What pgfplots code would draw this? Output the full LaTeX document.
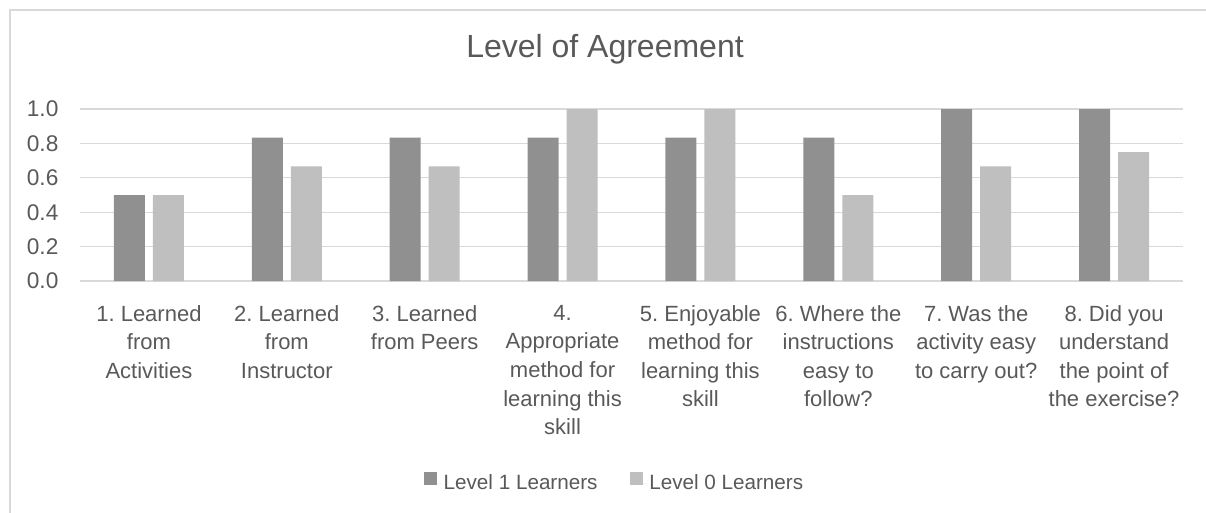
\documentclass[border=0pt]{standalone}
\usepackage{fontspec}
\setmainfont{Liberation Sans}
\usepackage{pgfplots}
\pgfplotsset{compat=1.18}
\frenchspacing

\definecolor{darkbar}{HTML}{909090}
\definecolor{lightbar}{HTML}{BFBFBF}
\definecolor{gridc}{HTML}{D9D9D9}
\definecolor{txt}{HTML}{595959}

\begin{document}
\begin{tikzpicture}
% 1px = 0.75pt, page is 1206x513 px
\useasboundingbox (0,0) rectangle (904.5pt,-384.75pt);
\draw[gridc, line width=1.1pt] (7.5pt,-384.75pt) -- (7.5pt,-7.5pt) -- (904.5pt,-7.5pt);
\begin{axis}[
  at={(60pt,-210.75pt)}, anchor=south west,
  scale only axis,
  width=827.25pt, height=129pt,
  ybar=6pt, bar width=23.25pt,
  xmin=-0.5, xmax=7.5, ymin=0, ymax=1,
  xtick={0,...,7},
  xticklabels={
    {1. Learned\\from\\Activities},
    {2. Learned\\from\\Instructor},
    {3. Learned\\from Peers},
    {4.\\Appropriate\\method for\\learning this\\skill},
    {5. Enjoyable\\method for\\learning this\\skill},
    {6. Where the\\instructions\\easy to\\follow?},
    {7. Was the\\activity easy\\to carry out?},
    {8. Did you\\understand\\the point of\\the exercise?}},
  ytick={0,0.2,...,1.0},
  yticklabel style={/pgf/number format/fixed, /pgf/number format/fixed zerofill,
    /pgf/number format/precision=1, /pgf/number format/assume math mode=true,
    anchor=east, inner sep=0pt, xshift=-16pt,
    font=\fontsize{17}{20}\selectfont, text=txt},
  xticklabel style={align=center, anchor=north, inner sep=0pt, yshift=-18pt,
    font=\fontsize{16.5}{21.4}\selectfont\frenchspacing, text=txt},
  major tick length=0pt,
  axis line style={draw=none},
  ymajorgrids, grid style={gridc, line width=1pt},
  title={Level of Agreement},
  title style={at={(0.476,1)}, anchor=base, yshift=33pt,
    font=\fontsize{24}{28}\selectfont, text=txt},
  legend columns=2,
  legend style={at={(0.485,0)}, anchor=center, yshift=-151.5pt, draw=none,
    font=\fontsize{15.5}{18}\selectfont, text=txt,
    /tikz/every even column/.append style={column sep=22pt}},
  legend image code/.code={\fill[#1] (0pt,-1pt) rectangle (9.75pt,8.75pt);
    \path (0pt,0pt) -- (12.75pt,0pt);},
]
\addplot[fill=darkbar, draw=none] coordinates {
  (0,0.5) (1,0.833) (2,0.833) (3,0.833) (4,0.833) (5,0.833) (6,1.0) (7,1.0)};
\addplot[fill=lightbar, draw=none] coordinates {
  (0,0.5) (1,0.667) (2,0.667) (3,1.0) (4,1.0) (5,0.5) (6,0.667) (7,0.75)};
\legend{Level 1 Learners, Level 0 Learners}
\end{axis}
\end{tikzpicture}
\end{document}
